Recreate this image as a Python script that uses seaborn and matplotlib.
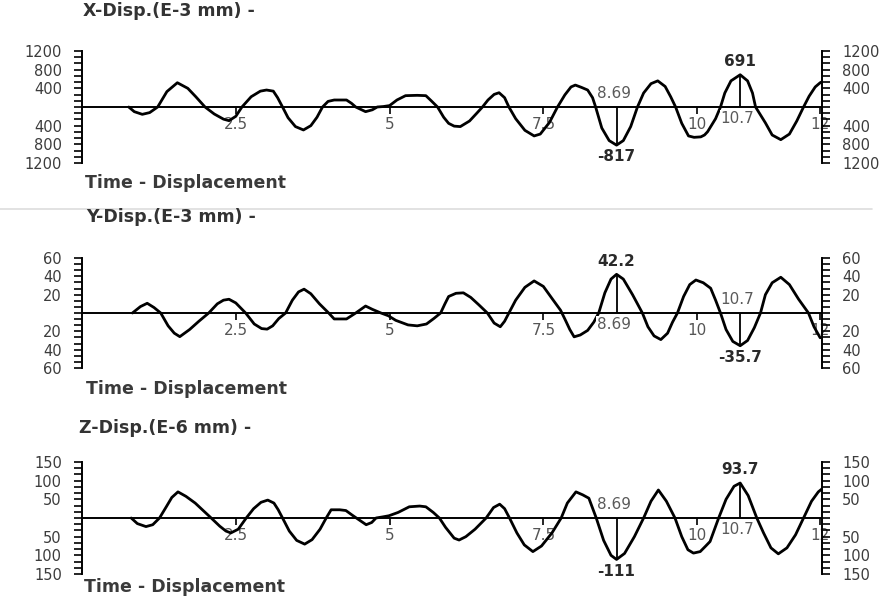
import matplotlib
matplotlib.use("Agg")
import matplotlib.pyplot as plt
from matplotlib.lines import Line2D
from matplotlib.ticker import MultipleLocator, FuncFormatter, FixedLocator
import pandas as pd
import seaborn as sns

# ---------------- data ----------------
time_x = [0.76, 0.85, 0.98, 1.1, 1.23, 1.38, 1.55, 1.72, 1.85, 2.0, 2.15, 2.3, 2.39, 2.5, 2.6,
          2.75, 2.9, 3.0, 3.11, 3.18, 3.26, 3.35, 3.47, 3.6, 3.72, 3.82, 3.91, 4.0, 4.1, 4.3, 4.38,
          4.45, 4.61, 4.72, 4.8, 4.9, 5.0, 5.12, 5.26, 5.45, 5.59, 5.68, 5.78, 5.88, 5.96, 6.05,
          6.15, 6.3, 6.42, 6.51, 6.6, 6.7, 6.78, 6.87, 6.94, 7.05, 7.2, 7.35, 7.45, 7.6, 7.73, 7.85,
          7.95, 8.02, 8.12, 8.22, 8.3, 8.35, 8.45, 8.57, 8.69, 8.8, 8.92, 9.03, 9.13, 9.25, 9.36,
          9.48, 9.57, 9.65, 9.75, 9.86, 9.95, 10.06, 10.12, 10.17, 10.3, 10.38, 10.45, 10.55, 10.7,
          10.82, 10.9, 10.95, 11.11, 11.22, 11.36, 11.5, 11.62, 11.73, 11.82, 11.92, 12.0, 12.03]
disp_x = [0, -100, -157, -120, 0, 330, 520, 400, 220, 0, -150, -260, -293, -200, 0,
          220, 340, 364, 340, 200, 0, -230, -420, -492, -400, -220, 0, 120, 150, 150, 80,
          0, -100, -60, 0, 10, 30, 150, 243, 250, 243, 130, 0, -220, -350, -410,
          -420, -300, -130, 0, 150, 270, 306, 200, 0, -250, -500, -620, -580, -330, 0, 260,
          430, 470, 420, 364, 200, 0, -450, -720, -817, -720, -420, 0, 300, 500, 560,
          440, 220, 0, -350, -620, -650, -640, -600, -530, -250, 0, 300, 560, 691,
          560, 300, 0, -340, -600, -700, -580, -300, 0, 230, 430, 520, 540]

time_y = [0.82, 0.95, 1.06, 1.17, 1.28, 1.4, 1.5, 1.59, 1.75, 1.9, 2.06, 2.2, 2.3, 2.39, 2.5,
          2.66, 2.8, 2.92, 3.01, 3.1, 3.2, 3.31, 3.42, 3.52, 3.61, 3.72, 3.86, 4.01, 4.1, 4.3,
          4.45, 4.61, 4.72, 4.86, 4.98, 5.1, 5.3, 5.45, 5.6, 5.72, 5.83, 5.9, 5.96, 6.08, 6.2,
          6.32, 6.45, 6.59, 6.7, 6.8, 6.87, 6.94, 7.05, 7.2, 7.35, 7.5, 7.65, 7.78, 7.86, 7.93,
          8.0, 8.1, 8.22, 8.32, 8.4, 8.5, 8.6, 8.69, 8.8, 8.95, 9.11, 9.2, 9.3, 9.41, 9.52, 9.6,
          9.68, 9.78, 9.88, 9.98, 10.1, 10.22, 10.3, 10.38, 10.47, 10.58, 10.7, 10.82, 10.93,
          11.03, 11.11, 11.22, 11.36, 11.5, 11.65, 11.81, 11.9, 12.0]
disp_y = [0, 7, 10.6, 6, 0, -14, -22, -25.8, -18, -9, 0, 10, 14, 15, 11,
          0, -12, -17, -17.6, -14, -6, 0, 14, 23, 26, 21, 10, 0, -6.5, -6.5,
          0, 7.6, 4, 0, -3, -8, -13, -14, -12, -6, 0, 10, 18, 21.5, 22,
          17, 9, 0, -11, -15, -9, 0, 14, 28, 35, 29, 15, 3, -8, -18,
          -26, -24, -19, -10, 0, 22, 37, 42.2, 37, 20, 0, -15, -25, -29, -22, -10,
          0, 18, 31, 36, 33, 27, 14, 0, -18, -31, -35.7, -30, -16,
          0, 20, 33, 39, 31, 15, 0, -15, -27]

time_z = [0.8, 0.9, 1.04, 1.15, 1.26, 1.37, 1.46, 1.56, 1.69, 1.84, 1.97, 2.1, 2.24, 2.34, 2.42,
          2.54, 2.67, 2.79, 2.91, 3.02, 3.12, 3.19, 3.26, 3.37, 3.49, 3.62, 3.74, 3.87, 3.97,
          4.05, 4.19, 4.29, 4.39, 4.46, 4.62, 4.71, 4.78, 4.89, 4.99, 5.14, 5.32, 5.49, 5.59,
          5.71, 5.81, 5.91, 6.05, 6.13, 6.24, 6.39, 6.57, 6.69, 6.79, 6.87, 6.95, 7.07, 7.19,
          7.33, 7.47, 7.64, 7.79, 7.89, 8.03, 8.14, 8.24, 8.36, 8.48, 8.6, 8.69, 8.82, 8.98,
          9.13, 9.25, 9.37, 9.5, 9.64, 9.75, 9.85, 9.94, 10.05, 10.14, 10.21, 10.35, 10.47,
          10.6, 10.7, 10.83, 10.97, 11.08, 11.2, 11.32, 11.46, 11.6, 11.73, 11.86, 11.97, 12.03]
disp_z = [0, -15, -23, -18, 0, 30, 55, 70, 58, 40, 20, 0, -22, -35, -40,
          -30, 0, 25, 42, 48, 40, 22, 0, -35, -60, -70, -58, -30, 0,
          22, 22, 20, 8, 0, -18, -12, 0, 3, 6, 15, 30, 32, 30,
          15, 0, -25, -54, -59, -50, -30, 0, 28, 37, 25, 0, -40, -72,
          -90, -75, -40, 0, 40, 70, 62, 53, 0, -60, -100, -111, -95, -50,
          0, 45, 75, 45, 0, -50, -85, -94, -90, -75, -63, 0, 50,
          85, 93.7, 60, 0, -40, -80, -96, -80, -45, 0, 45, 70, 78]

panel_titles = ["X-Disp.(E-3 mm) -", "Y-Disp.(E-3 mm) -", "Z-Disp.(E-6 mm) -"]
footer_text = "Time - Displacement"
x_ticks = [2.5, 5, 7.5, 10, 12]
x_tick_labels = ["2.5", "5", "7.5", "10", "12"]
y_limits = [1200, 60, 150]
y_label_steps = [400, 20, 50]
marker_times = [8.69, 10.7]
marker_time_labels = ["8.69", "10.7"]
marker_values_x = [-817, 691]
marker_values_y = [42.2, -35.7]
marker_values_z = [-111, 93.7]
marker_value_labels_x = ["-817", "691"]
marker_value_labels_y = ["42.2", "-35.7"]
marker_value_labels_z = ["-111", "93.7"]

# ---------------- style ----------------
sns.set_theme(style="white")
plt.rcParams["font.family"] = ["DejaVu Sans"]

W, H = 885, 607
fig = plt.figure(figsize=(W / 100, H / 100), dpi=100)
fig.patch.set_facecolor("white")

def fx(px):
    return px / W

def fy(py):
    return 1 - py / H

# panel pixel boxes: (left, right, top, bottom)
boxes = [(82, 822, 51, 163), (82, 822, 258, 368), (82, 822, 462, 574)]
title_pos = [(83, 11), (86, 217), (79, 428)]
footer_pos = [(85, 183), (86, 389), (84, 587)]

series = [(time_x, disp_x, marker_values_x, marker_value_labels_x),
          (time_y, disp_y, marker_values_y, marker_value_labels_y),
          (time_z, disp_z, marker_values_z, marker_value_labels_z)]

tick_color = "#3c3c3c"
for i, (box, (tt, vv, mvals, mlabels)) in enumerate(zip(boxes, series)):
    l, r, t, b = box
    ax = fig.add_axes([fx(l), fy(b), fx(r - l), (b - t) / H])
    ax.set_facecolor("none")
    df = pd.DataFrame({"time": tt, "disp": vv})
    sns.lineplot(data=df, x="time", y="disp", ax=ax, sort=False, color="black",
                 linewidth=2.0, estimator=None)
    lim = y_limits[i]
    ax.set_xlim(0, 12.03)
    ax.set_ylim(-lim, lim)
    ax.set_xlabel("")
    ax.set_ylabel("")

    for sp in ["left", "right", "bottom"]:
        ax.spines[sp].set_visible(True)
        ax.spines[sp].set_color("black")
        ax.spines[sp].set_linewidth(1.4)
    ax.spines["top"].set_visible(False)
    ax.spines["bottom"].set_position(("data", 0))

    step = y_label_steps[i]
    ax.yaxis.set_major_locator(MultipleLocator(step))
    ax.yaxis.set_minor_locator(MultipleLocator(step / 3))
    ax.yaxis.set_major_formatter(FuncFormatter(lambda v, p: "" if abs(v) < 1e-9 else f"{abs(v):g}"))
    ax.tick_params(axis="y", which="both", left=True, right=True, labelleft=True,
                   labelright=True, direction="out", length=5.5, width=1.2, color="black")
    ax.tick_params(axis="y", which="major", labelsize=10.5, labelcolor=tick_color, pad=9)

    ax.xaxis.set_major_locator(FixedLocator(x_ticks))
    ax.set_xticklabels(x_tick_labels)
    ax.tick_params(axis="x", which="major", bottom=True, direction="out", length=5,
                   width=1.2, color="black", labelsize=11, labelcolor="#555555", pad=2)
    ax.grid(False)

    # markers
    ax.vlines(marker_times, 0, mvals, color="black", linewidth=1.3)
    for mt, mv, tl, vl in zip(marker_times, mvals, marker_time_labels, mlabels):
        up = mv > 0
        ax.annotate(vl, xy=(mt, mv), xytext=(0, 4 if up else -3), textcoords="offset points",
                    ha="center", va="bottom" if up else "top", fontsize=11,
                    fontweight="bold", color="#2a2a2a")
        ax.annotate(tl, xy=(mt, 0), xytext=(-2, -3 if up else 4), textcoords="offset points",
                    ha="center", va="top" if up else "bottom", fontsize=11,
                    color="#5a5a5a",
                    bbox=dict(boxstyle="square,pad=0.05", facecolor="white", edgecolor="none"))

    fig.text(fx(title_pos[i][0]), fy(title_pos[i][1]), panel_titles[i], fontsize=12.5,
             fontweight="bold", color="#333333", ha="left", va="center")
    fig.text(fx(footer_pos[i][0]), fy(footer_pos[i][1]), footer_text, fontsize=12.5,
             fontweight="bold", color="#3a3a3a", ha="left", va="center")

# faint separator line between first and second panel
fig.add_artist(Line2D([0.0, 0.985], [fy(209), fy(209)], color="#dddddd", linewidth=1.2))

fig.savefig("out.png", dpi=100, facecolor="white")
